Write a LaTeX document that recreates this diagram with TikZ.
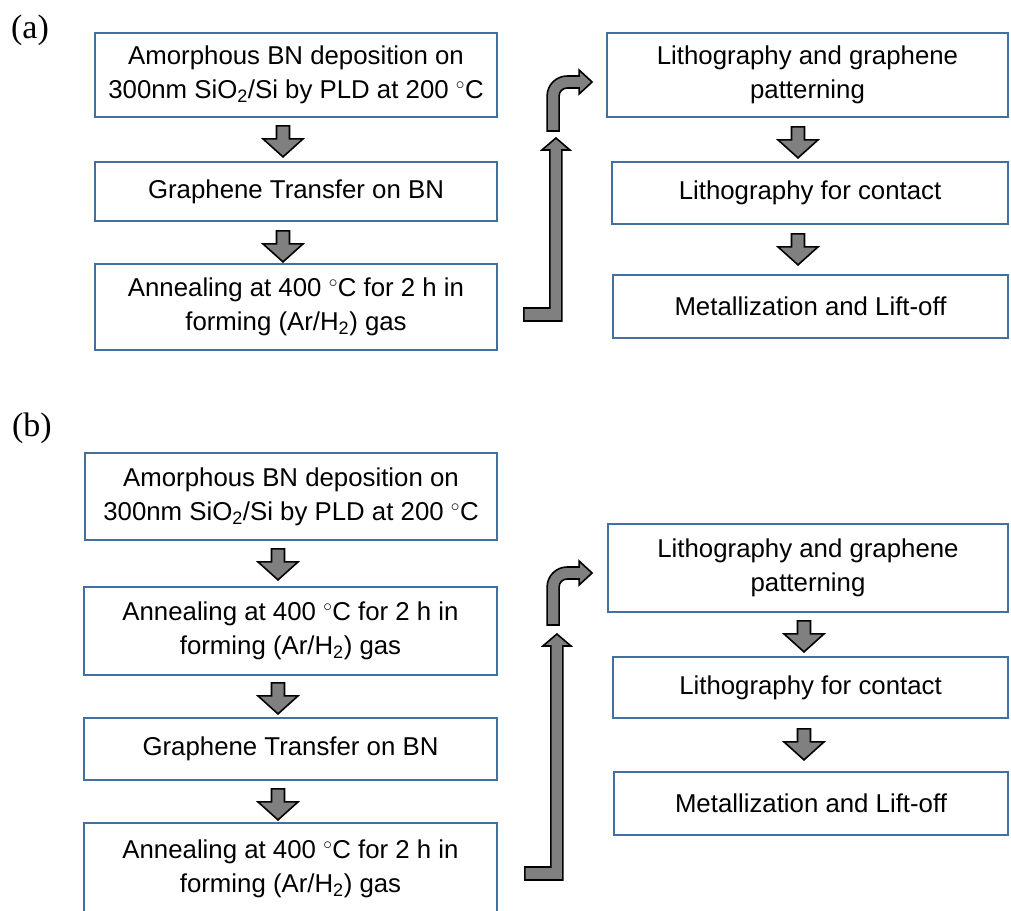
\documentclass[tikz,border=0pt]{standalone}
\usepackage{fontspec}
\setmainfont{Liberation Sans}
\newfontfamily\panelfont{Liberation Serif}
\usetikzlibrary{calc}

\definecolor{boxblue}{RGB}{65,113,156}
\definecolor{arrowgray}{RGB}{128,128,128}

\tikzset{
  stepbox/.style={draw=boxblue, line width=1.8pt, fill=white, align=center,
    inner sep=0pt, font=\fontsize{25.8}{34}\selectfont},
  leftbox/.style={stepbox, minimum width=402pt},
  panel/.style={font=\panelfont\fontsize{34}{34}\selectfont},
  blockarrow/.style={fill=arrowgray, draw=black, line width=1.6pt, line join=miter},
  dnarrow/.pic={
    \filldraw[blockarrow] (-6.5,0) -- (6.5,0) -- (6.5,13) -- (20,13) -- (0,31)
      -- (-20,13) -- (-6.5,13) -- cycle;},
  bentup/.pic={
    \filldraw[blockarrow] (0,#1) -- (0,20) .. controls (0,9) and (9,0) .. (20,0)
      -- (32,0) -- (32,-6) -- (45,6) -- (32,18) -- (32,12) -- (20,12)
      .. controls (15.6,12) and (12,15.6) .. (12,20) -- (12,#1) -- cycle;},
  elbow/.pic={
    \filldraw[blockarrow] (0,0) -- (-38,0) -- (-38,-13) -- (-12,-13) -- (-12,-#1)
      -- (-20,-#1) -- (-6,-#1-12) -- (8,-#1) -- (0,-#1) -- cycle;},
}

\begin{document}
\begin{tikzpicture}[x=1pt, y=-1pt]
  \useasboundingbox (0,0) rectangle (1011,910);

  % (a)
  \node[panel] (pa) at (30,30) {(a)};
  \node[leftbox, minimum height=84pt] (a1) at (296,75)
    {Amorphous BN deposition on\\300nm SiO\textsubscript{2}/Si by PLD at 200 ${}^{\circ}$C};
  \node[leftbox, minimum height=59pt] (a2) at (296,191.5) {Graphene Transfer on BN};
  \node[leftbox, minimum height=86pt] (a3) at (296,307)
    {Annealing at 400 ${}^{\circ}$C for 2 h in\\forming (Ar/H\textsubscript{2}) gas};
  \node[stepbox, minimum width=401pt, minimum height=84pt] (ra1) at (807.5,75)
    {Lithography and graphene\\patterning};
  \node[stepbox, minimum width=396pt, minimum height=62pt] (ra2) at (810,193)
    {Lithography for contact};
  \node[stepbox, minimum width=395pt, minimum height=63pt] (ra3) at (810.5,306.5)
    {Metallization and Lift-off};

  \pic at ($(a1.south)+(-13,8)$) {dnarrow};
  \pic at ($(a2.south)+(-13,9)$) {dnarrow};
  \pic at ($(ra1.south)+(-9.5,9)$) {dnarrow};
  \pic at ($(ra2.south)+(-12,9)$) {dnarrow};
  \pic at ($(a3.east)+(64,14)$) {elbow=171};
  \pic at ($(ra1.west)+(-59,1)$) {bentup=55};

  % (b)
  \node[panel] (pb) at (32,428) {(b)};
  \node[stepbox, minimum width=412pt, minimum height=87pt] (b1) at (291,496.5)
    {Amorphous BN deposition on\\300nm SiO\textsubscript{2}/Si by PLD at 200 ${}^{\circ}$C};
  \node[stepbox, minimum width=413pt, minimum height=88pt] (b2) at (290.5,631)
    {Annealing at 400 ${}^{\circ}$C for 2 h in\\forming (Ar/H\textsubscript{2}) gas};
  \node[stepbox, minimum width=413pt, minimum height=62pt] (b3) at (290.5,749)
    {Graphene Transfer on BN};
  \node[stepbox, minimum width=413pt, minimum height=92pt] (b4) at (290.5,869)
    {Annealing at 400 ${}^{\circ}$C for 2 h in\\forming (Ar/H\textsubscript{2}) gas};
  \node[stepbox, minimum width=400pt, minimum height=88pt] (rb1) at (808,568)
    {Lithography and graphene\\patterning};
  \node[stepbox, minimum width=395pt, minimum height=61pt] (rb2) at (810.5,687.5)
    {Lithography for contact};
  \node[stepbox, minimum width=394pt, minimum height=63pt] (rb3) at (811,803.5)
    {Metallization and Lift-off};

  \pic at ($(b1.south)+(-13,8)$) {dnarrow};
  \pic at ($(b2.south)+(-12.5,7)$) {dnarrow};
  \pic at ($(b3.south)+(-12.5,8)$) {dnarrow};
  \pic at ($(rb1.south)+(-4,8)$) {dnarrow};
  \pic at ($(rb2.south)+(-6.5,10)$) {dnarrow};
  \pic at ($(b4.east)+(65,11)$) {elbow=234};
  \pic at ($(rb1.west)+(-60,-1)$) {bentup=58};
\end{tikzpicture}
\end{document}
